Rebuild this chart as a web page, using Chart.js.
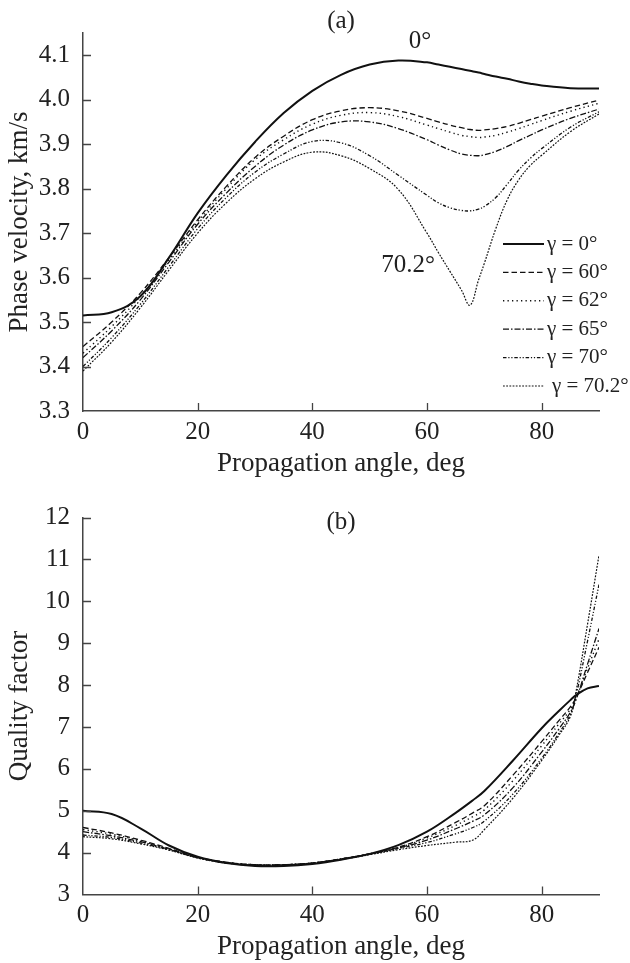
<!DOCTYPE html>
<html>
<head>
<meta charset="utf-8">
<script src="https://cdn.jsdelivr.net/npm/chart.js@4.4.0/dist/chart.umd.min.js"></script>
<style>
  html,body{margin:0;padding:0;background:#fff;}
  #wrap{position:relative;width:630px;height:963px;}
  canvas{position:absolute;left:0;}
  #velChart{top:0;}
  #qChart{top:480px;}
</style>
</head>
<body>
<div id="wrap">
  <canvas id="velChart" width="630" height="480"></canvas>
  <canvas id="qChart" width="630" height="483"></canvas>
</div>
<script>
// -------- DATA ----------
const gammaLabels = ['γ = 0°','γ = 60°','γ = 62°','γ = 65°','γ = 70°','γ = 70.2°'];

// (a) phase velocity, km/s
const anglesA = [0,5,10,15,20,25,30,35,40,45,50,55,60,62,64,66,67.5,69,70,72,74,76,78,80,85,90];
const vel0   = [3.515,3.522,3.558,3.645,3.745,3.83,3.905,3.97,4.02,4.056,4.079,4.088,4.084,4.079,4.074,4.069,4.065,4.061,4.058,4.052,4.047,4.041,4.036,4.032,4.026,4.025];
const vel60  = [3.445,3.50,3.565,3.645,3.73,3.805,3.87,3.918,3.955,3.975,3.982,3.975,3.958,3.95,3.943,3.937,3.933,3.931,3.932,3.935,3.94,3.947,3.955,3.963,3.982,3.999];
const vel62  = [3.43,3.49,3.558,3.64,3.725,3.80,3.865,3.91,3.945,3.965,3.971,3.962,3.943,3.935,3.927,3.92,3.917,3.915,3.916,3.92,3.927,3.935,3.944,3.953,3.974,3.992];
const vel65  = [3.42,3.48,3.55,3.635,3.72,3.79,3.85,3.898,3.932,3.95,3.95,3.935,3.91,3.898,3.887,3.878,3.875,3.874,3.876,3.884,3.895,3.908,3.92,3.932,3.958,3.979];
const vel70  = [3.40,3.465,3.54,3.625,3.71,3.78,3.837,3.878,3.906,3.903,3.874,3.83,3.785,3.768,3.757,3.751,3.75,3.754,3.76,3.78,3.81,3.842,3.868,3.89,3.938,3.973];
const vel702 = [3.39,3.455,3.532,3.617,3.70,3.768,3.822,3.86,3.882,3.874,3.845,3.798,3.70,3.656,3.614,3.572,3.538,3.595,3.632,3.71,3.775,3.82,3.852,3.875,3.928,3.968];

// (b) quality factor
const anglesB = [0,5,10,15,20,25,30,35,40,45,50,55,60,65,68,70,75,80,83,85,86,88,90];
const q0   = [5.0,4.92,4.58,4.17,3.9,3.75,3.68,3.68,3.73,3.83,3.97,4.18,4.5,4.95,5.25,5.47,6.2,6.97,7.38,7.64,7.76,7.92,7.98];
const q60  = [4.6,4.47,4.3,4.1,3.89,3.77,3.71,3.71,3.75,3.85,3.97,4.13,4.38,4.72,4.95,5.12,5.85,6.65,7.15,7.48,7.7,8.3,8.9];
const q62  = [4.55,4.44,4.28,4.09,3.88,3.77,3.71,3.71,3.75,3.85,3.97,4.12,4.35,4.65,4.86,5.02,5.72,6.55,7.07,7.42,7.7,8.4,9.1];
const q65  = [4.5,4.4,4.26,4.08,3.88,3.76,3.71,3.71,3.75,3.85,3.97,4.11,4.3,4.57,4.75,4.9,5.55,6.4,6.95,7.35,7.65,8.5,9.35];
const q70  = [4.42,4.36,4.23,4.07,3.88,3.76,3.7,3.71,3.75,3.84,3.96,4.1,4.24,4.45,4.6,4.75,5.4,6.25,6.85,7.3,7.75,9.05,10.4];
const q702 = [4.38,4.33,4.21,4.06,3.87,3.75,3.7,3.71,3.75,3.84,3.95,4.07,4.17,4.25,4.3,4.55,5.3,6.2,6.8,7.25,7.85,9.45,11.1];

// ticks
const xTicks  = [0,20,40,60,80];
const yTicksA = [3.3,3.4,3.5,3.6,3.7,3.8,3.9,4.0,4.1];
const yTicksB = [3,4,5,6,7,8,9,10,11,12];

// curve labels inside (a): [text, angle, value]
const notesA = [['0°',58.8,4.131],['70.2°',56.7,3.628]];

// -------- STYLE ----------
const FONT = '"Liberation Serif","Times New Roman",serif';
const INK = '#111';
const AXIS = '#444';
const lineStyles = [
  {borderDash:[],            borderWidth:2},
  {borderDash:[5.5,3],       borderWidth:1.3},
  {borderDash:[1.3,3.2],     borderWidth:1.4},
  {borderDash:[6,2,1.5,2],   borderWidth:1.3},
  {borderDash:[3.5,1.8,1.2,1.8,1.2,1.8], borderWidth:1.3},
  {borderDash:[1.8,1.4],     borderWidth:1.2}
];

Chart.defaults.font.family = FONT;
Chart.defaults.font.size = 25;
Chart.defaults.color = '#222';

function makeSets(xs, series){
  return series.map((ys,i)=>({
    label: gammaLabels[i],
    data: xs.map((x,k)=>({x:x, y:ys[k]})),
    borderColor: INK,
    backgroundColor: INK,
    borderDash: lineStyles[i].borderDash,
    borderWidth: lineStyles[i].borderWidth,
    pointRadius: 0,
    fill: false,
    tension: 0.4
  }));
}

// inward tick marks
const inTicks = {
  id:'inTicks',
  afterDraw(chart){
    const {ctx, chartArea:a, scales:{x,y}} = chart;
    ctx.save();
    ctx.strokeStyle = AXIS; ctx.lineWidth = 1.3;
    ctx.beginPath();
    x.ticks.forEach(t=>{
      if (t.value === x.min) return;
      const px = Math.round(x.getPixelForValue(t.value))+0.5;
      ctx.moveTo(px, a.bottom); ctx.lineTo(px, a.bottom-8);
    });
    y.ticks.forEach(t=>{
      if (t.value === y.min) return;
      const py = Math.round(y.getPixelForValue(t.value))+0.5;
      ctx.moveTo(a.left, py); ctx.lineTo(a.left+8, py);
    });
    ctx.stroke();
    ctx.restore();
  }
};

// panel letter
const panelTag = {
  id:'panelTag',
  afterDraw(chart, args, opts){
    const {ctx, chartArea:a} = chart;
    ctx.save();
    ctx.fillStyle = '#222';
    ctx.font = '25px '+FONT;
    ctx.textAlign = 'center'; ctx.textBaseline = 'middle';
    ctx.fillText(opts.text, (a.left+a.right)/2, opts.y);
    ctx.restore();
  }
};

// curve notes
const curveNotes = {
  id:'curveNotes',
  afterDraw(chart, args, opts){
    if (!opts.items) return;
    const {ctx, scales:{x,y}} = chart;
    ctx.save();
    ctx.fillStyle = '#222';
    ctx.font = '25px '+FONT;
    ctx.textAlign = 'center'; ctx.textBaseline = 'middle';
    opts.items.forEach(([t,a,v])=> ctx.fillText(t, x.getPixelForValue(a), y.getPixelForValue(v)));
    ctx.restore();
  }
};

// legend with line samples
const lineLegend = {
  id:'lineLegend',
  afterDraw(chart, args, opts){
    if (!opts.show) return;
    const {ctx, chartArea:a} = chart;
    ctx.save();
    ctx.font = '21px '+FONT;
    ctx.fillStyle = '#222';
    ctx.textBaseline = 'middle';
    chart.data.datasets.forEach((ds,i)=>{
      const yy = a.top + 211 + i*28.4;
      const x0 = a.right - 96, x1 = a.right - 55;
      ctx.strokeStyle = INK;
      ctx.lineWidth = ds.borderWidth;
      ctx.setLineDash(ds.borderDash);
      ctx.beginPath(); ctx.moveTo(x0, yy); ctx.lineTo(x1, yy); ctx.stroke();
      ctx.setLineDash([]);
      ctx.fillText(ds.label, x1 + (i===5 ? 8 : 3), yy);
    });
    ctx.restore();
  }
};

function axisOpts(min, max, tickList, title, fmt, fitW, fitH, horiz){
  return {
    type:'linear', min:min, max:max,
    grid:{display:false, drawTicks:false},
    border:{display:true, color:AXIS, width:1.5},
    afterBuildTicks: s => { s.ticks = tickList.map(v=>({value:v})); },
    afterFit: s => { if (horiz) s.height = fitH; else s.width = fitW; },
    ticks:{color:'#222', padding: horiz ? 6 : 13, maxRotation:0, autoSkip:false,
           font:{size:25, family:FONT}, callback: fmt},
    title:{display:true, text:title, color:'#222', font:{size:27, family:FONT},
           padding: horiz ? {top:0,bottom:0} : {top:4,bottom:0}}
  };
}

// -------- CHART (a) ----------
new Chart(document.getElementById('velChart').getContext('2d'), {
  type:'line',
  data:{ datasets: makeSets(anglesA, [vel0,vel60,vel62,vel65,vel70,vel702]) },
  options:{
    responsive:false, animation:false,
    layout:{padding:{top:33, right:31, left:0, bottom:0}},
    plugins:{
      legend:{display:false}, tooltip:{enabled:false},
      panelTag:{text:'(a)', y:21},
      curveNotes:{items:notesA},
      lineLegend:{show:true}
    },
    scales:{
      x: axisOpts(0, 90, xTicks, 'Propagation angle, deg', v=>String(v), 0, 69, true),
      y: axisOpts(3.3, 4.15, yTicksA, 'Phase velocity, km/s', v=>v.toFixed(1), 83, 0, false)
    }
  },
  plugins:[inTicks, panelTag, curveNotes, lineLegend]
});

// -------- CHART (b) ----------
new Chart(document.getElementById('qChart').getContext('2d'), {
  type:'line',
  data:{ datasets: makeSets(anglesB, [q0,q60,q62,q65,q70,q702]) },
  options:{
    responsive:false, animation:false,
    layout:{padding:{top:37.5, right:31, left:0, bottom:0}},
    plugins:{
      legend:{display:false}, tooltip:{enabled:false},
      panelTag:{text:'(b)', y:42},
      curveNotes:{},
      lineLegend:{show:false}
    },
    scales:{
      x: axisOpts(0, 90, xTicks, 'Propagation angle, deg', v=>String(v), 0, 68.5, true),
      y: axisOpts(3, 12, yTicksB, 'Quality factor', v=>String(v), 83, 0, false)
    }
  },
  plugins:[inTicks, panelTag, curveNotes, lineLegend]
});
</script>
</body>
</html>
